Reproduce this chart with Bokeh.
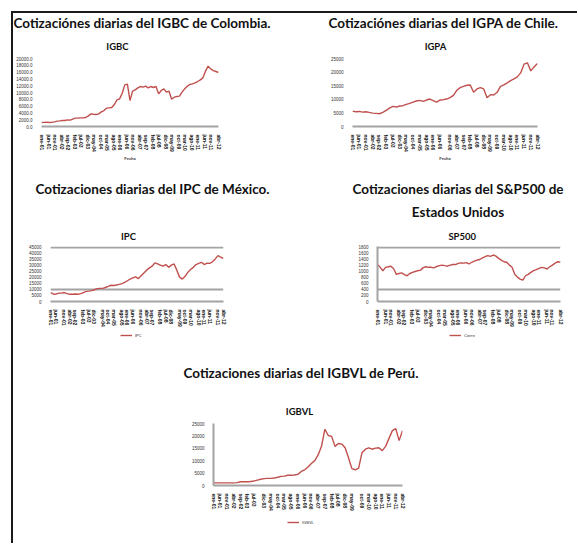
import numpy as np
from bokeh.plotting import figure
from bokeh.models import (Label, Legend, LegendItem, FixedTicker, Spacer, Range1d,
                          PrintfTickFormatter)
from bokeh.layouts import row, column
from bokeh.embed import file_html
from bokeh.resources import INLINE

# ---------------- data ----------------
date_labels = ["ene-01", "jun-01", "nov-01", "abr-02", "sep-02", "feb-03", "jul-03",
               "dic-03", "may-04", "oct-04", "mar-05", "ago-05", "ene-06", "jun-06",
               "nov-06", "abr-07", "sep-07", "feb-08", "jul-08", "dic-08", "may-09",
               "oct-09", "mar-10", "ago-10", "ene-11", "jun-11", "nov-11", "abr-12"]

igbc = [1180, 1200, 1280, 1180, 1270, 1370, 1570, 1660, 1760, 1770, 1960, 1860, 2160,
        2450, 2450, 2550, 2540, 2650, 3140, 3720, 3620, 3530, 3720, 4310, 4700, 5390,
        5490, 5590, 6470, 7840, 8130, 9800, 12250, 12450, 7640, 10390, 10780, 11370,
        11760, 11560, 11860, 11370, 11760, 11470, 11760, 9600, 10580, 11070, 10100,
        10390, 8040, 8620, 8820, 8920, 10100, 11070, 11860, 12350, 12540, 12840, 13230,
        13720, 14310, 16270, 17740, 16950, 16460, 16170, 15880]

igpa = [5670, 5420, 5540, 5300, 5420, 5170, 4930, 4810, 4680, 5170, 5910, 6780, 7390,
        7150, 7520, 7640, 8130, 8500, 8990, 9360, 9610, 9240, 9730, 10100, 9490, 8990,
        9730, 9860, 10100, 10600, 11460, 13310, 14290, 14780, 15150, 15280, 12570, 13800,
        14290, 13800, 10600, 11700, 11580, 12570, 14780, 15280, 16020, 16880, 17490,
        18230, 19710, 22920, 23410, 20450, 21930, 23160]

ipc = [7420, 6260, 6030, 6960, 6960, 7420, 6490, 6030, 6030, 6260, 6030, 6490, 7420,
       8350, 8580, 9040, 9740, 10670, 10900, 10900, 11600, 12520, 13450, 13220, 13680,
       14150, 14840, 15770, 17160, 18550, 19480, 20410, 19020, 21340, 23650, 25970,
       27830, 29220, 32000, 31080, 30150, 29220, 30610, 28290, 30150, 31080, 25970,
       20180, 18550, 20870, 24120, 26440, 28290, 30610, 31540, 32470, 30610, 31770,
       31540, 32930, 35250, 38030, 36640, 35710]

sp500 = [1224, 1132, 1020, 1132, 1150, 1169, 1085, 900, 928, 946, 891, 853, 928, 965,
         993, 1020, 1039, 1122, 1150, 1132, 1132, 1113, 1160, 1187, 1206, 1187, 1169,
         1206, 1224, 1224, 1262, 1280, 1271, 1289, 1243, 1299, 1336, 1373, 1391, 1447,
         1484, 1521, 1493, 1540, 1503, 1429, 1373, 1317, 1299, 1206, 1132, 900, 807,
         742, 705, 853, 900, 965, 1020, 1057, 1095, 1132, 1113, 1076, 1150, 1206, 1271,
         1317, 1299]

igbvl = [1040, 1040, 1040, 1040, 1040, 1040, 1040, 1150, 1500, 1500, 1500, 1610, 1840,
         2190, 2530, 2770, 2880, 2880, 3000, 3340, 3690, 3800, 4150, 4150, 4260, 4490,
         5650, 6340, 7490, 8870, 10020, 12330, 15780, 22690, 20160, 19810, 15780, 16930,
         16700, 15210, 11170, 6800, 6340, 7030, 13250, 14630, 15210, 14630, 15090, 15210,
         14050, 15780, 19010, 22120, 22930, 18090, 22120]

igbc_ticks = [0, 2000, 4000, 6000, 8000, 10000, 12000, 14000, 16000, 18000, 20000]
igpa_ticks = [0, 5000, 10000, 15000, 20000, 25000]
ipc_ticks = [0, 5000, 10000, 15000, 20000, 25000, 30000, 35000, 40000, 45000]
ipc_grid = [10000, 45000]
sp_ticks = [0, 200, 400, 600, 800, 1000, 1200, 1400, 1600, 1800]
sp_grid = [400, 1800]
igbvl_ticks = [0, 5000, 10000, 15000, 20000, 25000]

# ---------------- style ----------------
RED = "#c0504d"
GRAY = "#a3a3a3"
HFONT = "Lato"
TFONT = "Liberation Sans"
ROW_W = 564


def band(height):
    s = figure(width=ROW_W, height=height, output_backend="svg", toolbar_location=None,
               x_range=Range1d(0, ROW_W), y_range=Range1d(height, 0),
               min_border=0, x_axis_type=None, y_axis_type=None)
    s.outline_line_color = None
    s.xgrid.visible = False
    s.ygrid.visible = False
    return s


def strip(height, items):
    """A text-only band: headers and chart titles, positioned in pixels."""
    s = band(height)
    for (x, y, txt, align, size) in items:
        s.add_layout(Label(x=x, y=y, text=txt, text_font=HFONT, text_font_size=size,
                           text_font_style="bold", text_color="#111111",
                           text_align=align, text_baseline="middle"))
    return s


def legend_strip(height, items):
    """Band holding the legends that sit under the charts."""
    s = band(height)
    for (lx, ly, txt) in items:
        r = s.line(x=np.array([np.nan, np.nan]), y=np.array([np.nan, np.nan]),
                   line_color=RED, line_width=1.4)
        s.add_layout(Legend(items=[LegendItem(label=txt, renderers=[r])],
                            location=(lx, ly), border_line_color=None,
                            background_fill_alpha=0, padding=0, margin=0,
                            glyph_width=12, glyph_height=6, label_standoff=3,
                            label_height=6, label_text_font=TFONT,
                            label_text_font_size="4px", label_text_color="#333333",
                            spacing=0))
    return s


def make_chart(values, width, height, borders, y_ticks, y_fmt, grid=None,
               yaxis_line=False, xlabel=None, top_pad=0.0):
    n = len(values)
    xs = list(range(n))
    p = figure(width=width, height=height, output_backend="svg", toolbar_location=None,
               x_range=Range1d(0, n - 1),
               y_range=Range1d(y_ticks[0], y_ticks[-1] * (1 + top_pad)),
               min_border_left=borders[0], min_border_right=borders[1],
               min_border_top=borders[2], min_border_bottom=borders[3])
    p.outline_line_color = None
    p.line(xs, values, line_color=RED, line_width=1.4)

    m = len(date_labels)
    tick_pos = [round(i * (n - 1) / (m - 1)) for i in range(m)]
    p.xaxis.ticker = FixedTicker(ticks=tick_pos)
    p.xaxis.major_label_overrides = {t: lab for t, lab in zip(tick_pos, date_labels)}
    p.xaxis.major_label_orientation = "vertical"
    p.xaxis.major_label_text_font = TFONT
    p.xaxis.major_label_text_font_size = "5px"
    p.xaxis.major_label_text_font_style = "bold"
    p.xaxis.major_label_text_color = "#111111"
    p.xaxis.major_label_standoff = 2
    p.xaxis.axis_line_color = GRAY
    p.xaxis.axis_line_width = 2
    p.xaxis.major_tick_line_color = None
    p.xaxis.minor_tick_line_color = None
    if xlabel:
        p.xaxis.axis_label = xlabel
        p.xaxis.axis_label_text_font = TFONT
        p.xaxis.axis_label_text_font_size = "4px"
        p.xaxis.axis_label_text_font_style = "bold"
        p.xaxis.axis_label_standoff = 1

    p.yaxis.ticker = FixedTicker(ticks=y_ticks)
    p.yaxis.formatter = PrintfTickFormatter(format=y_fmt)
    p.yaxis.major_label_text_font = TFONT
    p.yaxis.major_label_text_font_size = "4.5px"
    p.yaxis.major_label_text_color = "#333333"
    p.yaxis.major_label_standoff = 3
    p.yaxis.major_tick_line_color = None
    p.yaxis.minor_tick_line_color = None
    if yaxis_line:
        p.yaxis.axis_line_color = GRAY
        p.yaxis.axis_line_width = 2
    else:
        p.yaxis.axis_line_color = None

    p.xgrid.visible = False
    if grid:
        p.ygrid.ticker = FixedTicker(ticks=grid)
        p.ygrid.grid_line_color = GRAY
        p.ygrid.grid_line_width = 2
    else:
        p.ygrid.visible = False
    return p


H1 = "13.5px"
H2 = "9.5px"
s1 = strip(41, [(0, 9.5, "Cotizaciónes diarias del  IGBC de Colombia.", "left", H1),
                (315, 9.5, "Cotizaciónes diarias del  IGPA  de Chile.", "left", H1),
                (104, 33, "IGBC", "center", H2),
                (422, 33, "IGPA", "center", H2)])
pA = make_chart(igbc, 277, 116, (23, 72, 4, 44), igbc_ticks, "%.1f", xlabel="Fecha")
pB = make_chart(igpa, 287, 116, (62, 40, 4, 44), igpa_ticks, "%d", xlabel="Fecha")

s2 = strip(72, [(22, 18.3, "Cotizaciones diarias del IPC de México.", "left", H1),
                (444.5, 18.3, "Cotizaciones diarias del S&P500 de", "center", H1),
                (444.5, 41.7, "Estados Unidos", "center", H1),
                (115, 65.7, "IPC", "center", H2),
                (448.7, 65.7, "SP500", "center", H2)])
pC = make_chart(ipc, 277, 87, (37, 67, 4, 18), ipc_ticks, "%d", grid=ipc_grid,
                top_pad=0.012)
pD = make_chart(sp500, 287, 87, (87, 17, 4, 18), sp_ticks, "%d", grid=sp_grid,
                yaxis_line=True, top_pad=0.012)
l2 = legend_strip(17, [(107, 8, "IPC"), (436, 8, "Cierre")])

s3 = strip(73, [(170, 26.7, "Cotizaciones diarias del IGBVL de Perú.", "left", H1),
                (286, 65, "IGBVL", "center", H2)])
pE = make_chart(igbvl, 290, 94, (73, 28, 4, 17), igbvl_ticks, "%d", yaxis_line=True)
l3 = legend_strip(30, [(274, 18, "IGBVL")])

layout = column(
    s1,
    row(pA, pB),
    s2,
    row(pC, pD),
    l2,
    s3,
    row(Spacer(width=127, height=94), pE, Spacer(width=147, height=94)),
    l3,
    styles={"border-top": "2px solid #1a1a1a", "border-left": "2px solid #1a1a1a",
            "margin-left": "11px", "margin-top": "11px", "background": "white"},
)

open("out.html", "w").write(file_html(layout, INLINE))
